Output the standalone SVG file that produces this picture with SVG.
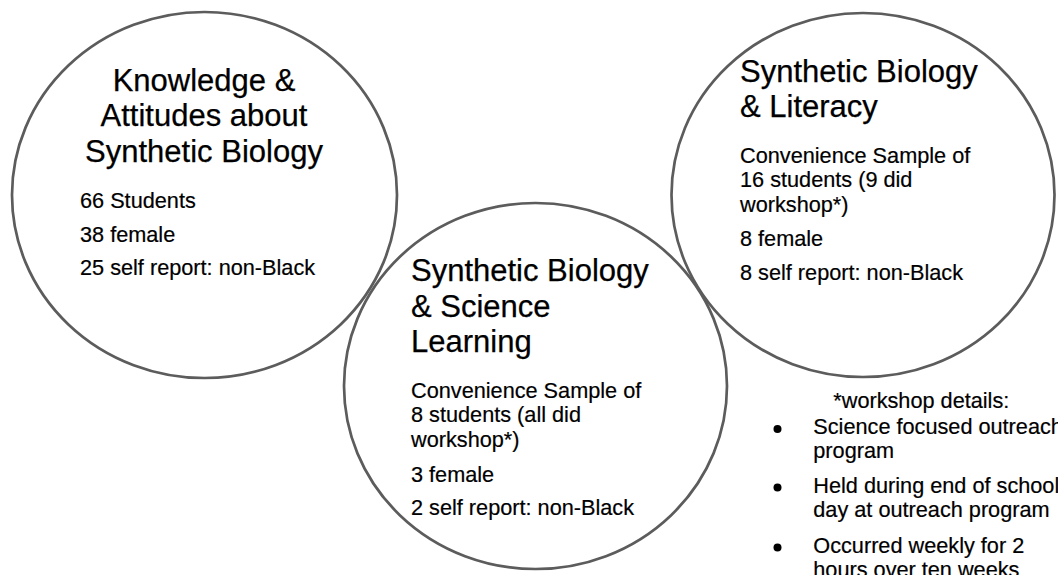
<svg xmlns="http://www.w3.org/2000/svg" width="1058" height="575" viewBox="0 0 1058 575">
<style>
.ring{fill:none;stroke:#5c5c5c;stroke-width:2.7}
.t{font-family:"Liberation Sans",Arial,sans-serif;font-size:31px;fill:#000;stroke:#000;stroke-width:0.25}
.b{font-family:"Liberation Sans",Arial,sans-serif;font-size:21.7px;fill:#000;stroke:#000;stroke-width:0.2}
.dot{fill:#000}
</style>
<rect width="1058" height="575" fill="#fff"/>
<g id="node-knowledge">
<ellipse class="ring" cx="204.5" cy="195" rx="192.5" ry="183"/>
<text class="t" text-anchor="middle"><tspan x="204" y="90.5">Knowledge &amp;</tspan><tspan x="204" y="126">Attitudes about</tspan><tspan x="204" y="161.5">Synthetic Biology</tspan></text>
<text class="b"><tspan x="80" y="207.7">66 Students</tspan><tspan x="80" y="241.7">38 female</tspan><tspan x="80" y="275">25 self report: non-Black</tspan></text>
</g>
<g id="node-literacy">
<ellipse class="ring" cx="863" cy="195" rx="191.5" ry="182"/>
<text class="t"><tspan x="740" y="81.7">Synthetic Biology</tspan><tspan x="740" y="117.3">&amp; Literacy</tspan></text>
<text class="b"><tspan x="740" y="163.3">Convenience Sample of</tspan><tspan x="740" y="187.3">16 students (9 did</tspan><tspan x="740" y="211.5">workshop*)</tspan><tspan x="740" y="245.7">8 female</tspan><tspan x="740" y="280">8 self report: non-Black</tspan></text>
</g>
<g id="node-science">
<ellipse class="ring" cx="535.5" cy="386" rx="191.5" ry="183"/>
<text class="t"><tspan x="411" y="281">Synthetic Biology</tspan><tspan x="411" y="316.5">&amp; Science</tspan><tspan x="411" y="352">Learning</tspan></text>
<text class="b"><tspan x="411" y="398.3">Convenience Sample of</tspan><tspan x="411" y="422.3">8 students (all did</tspan><tspan x="411" y="446.5">workshop*)</tspan><tspan x="411" y="481.7">3 female</tspan><tspan x="411" y="515">2 self report: non-Black</tspan></text>
</g>
<g id="workshop-notes">
<text class="b" x="833.3" y="408.3">*workshop details:</text>
<circle class="dot" cx="777.5" cy="429" r="4"/>
<circle class="dot" cx="777.5" cy="487.5" r="4"/>
<circle class="dot" cx="777.5" cy="547.5" r="4"/>
<text class="b"><tspan x="813.3" y="434">Science focused outreach</tspan><tspan x="813.3" y="458.3">program</tspan></text>
<text class="b"><tspan x="813.3" y="492.7">Held during end of school</tspan><tspan x="813.3" y="516.7">day at outreach program</tspan></text>
<text class="b"><tspan x="813.3" y="552.7">Occurred weekly for 2</tspan><tspan x="813.3" y="577">hours over ten weeks</tspan></text>
</g>
<g id="connectors"></g>
</svg>
